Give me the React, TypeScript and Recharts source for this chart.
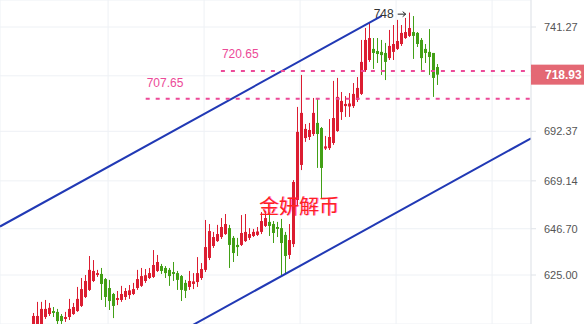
import {
  Bar,
  CartesianGrid,
  ComposedChart,
  ReferenceDot,
  ReferenceLine,
  XAxis,
  YAxis,
} from 'recharts';

// OHLC per session, oldest first
const opens = [
  600.2, 600.6, 601.6, 605.3, 606.7, 608.1, 607.7, 605.8, 604.4, 605.3,
  606.7, 608.1, 610.5, 614.7, 618.0, 622.2, 625.0, 625.5, 623.1, 618.9,
  616.1, 613.3, 613.3, 614.7, 615.6, 616.1, 618.9, 619.9, 622.2, 623.6,
  624.1, 626.9, 629.2, 628.3, 627.4, 626.4, 625.9, 624.5, 621.3, 619.4,
  620.8, 621.7, 623.6, 627.4, 633.0, 638.6, 640.9, 642.8, 644.2, 647.0,
  642.4, 639.1, 639.1, 640.9, 642.4, 643.3, 643.8, 645.2, 648.0, 649.9,
  648.9, 647.5, 647.0, 643.8, 634.4, 639.5, 660.2, 676.6, 689.2, 689.7,
  691.1, 696.3, 693.9, 684.3, 684.5, 686.9, 692.5, 701.4, 704.2, 704.0,
  704.2, 707.1, 709.9, 721.1, 725.8, 731.0, 730.0, 729.6, 729.1, 726.7,
  729.6, 731.0, 733.3, 736.1, 737.1, 738.9, 738.5, 735.2, 731.0, 729.6,
  729.1, 722.5,
];
const highs = [
  607.2, 612.4, 612.4, 613.3, 611.9, 610.0, 609.1, 606.7, 607.7, 613.8,
  611.9, 619.4, 623.6, 625.0, 633.9, 632.0, 627.4, 628.3, 623.6, 622.7,
  616.6, 617.5, 619.9, 618.9, 620.3, 621.3, 627.4, 628.3, 627.8, 628.3,
  636.7, 634.4, 630.2, 629.2, 628.3, 631.1, 626.9, 625.0, 622.7, 626.9,
  625.9, 633.4, 630.6, 650.8, 648.9, 645.2, 648.5, 651.7, 653.6, 648.5,
  643.3, 642.4, 653.1, 653.6, 647.0, 646.6, 647.5, 654.5, 655.0, 654.5,
  650.3, 649.9, 651.3, 645.2, 648.9, 669.5, 703.8, 718.8, 695.8, 696.3,
  708.0, 708.0, 694.4, 690.2, 698.1, 716.0, 717.4, 710.8, 708.9, 710.3,
  715.0, 717.8, 735.2, 740.8, 743.2, 736.1, 736.1, 735.2, 733.8, 739.9,
  742.2, 744.6, 742.2, 745.5, 748.0, 746.4, 738.9, 736.1, 733.3, 740.3,
  729.1, 723.9,
];
const lows = [
  598.3, 599.2, 600.2, 604.4, 605.8, 605.3, 601.6, 602.0, 603.0, 603.9,
  606.3, 607.7, 610.0, 614.2, 617.5, 621.7, 624.1, 613.3, 610.0, 608.6,
  604.8, 610.9, 612.4, 613.3, 613.8, 615.6, 618.0, 619.4, 621.3, 623.1,
  623.6, 626.4, 625.5, 623.6, 619.9, 622.2, 618.0, 612.8, 614.2, 618.0,
  618.4, 619.4, 622.7, 626.4, 632.0, 637.7, 640.5, 641.9, 643.8, 628.3,
  631.1, 633.9, 638.6, 640.5, 641.4, 642.8, 643.3, 644.2, 647.5, 643.3,
  640.0, 642.8, 624.5, 625.5, 632.5, 638.1, 657.8, 674.2, 687.4, 688.3,
  690.2, 675.2, 661.1, 683.6, 683.6, 686.0, 692.1, 697.7, 699.1, 699.1,
  703.3, 706.1, 709.4, 720.2, 724.9, 721.6, 724.4, 718.8, 716.4, 725.8,
  725.8, 730.5, 732.4, 735.7, 736.6, 726.3, 731.9, 721.1, 724.4, 718.8,
  708.5, 714.1,
];
const closes = [
  605.8, 605.8, 609.1, 609.1, 609.6, 607.2, 603.4, 603.4, 605.3, 609.1,
  610.0, 613.8, 618.4, 622.2, 627.4, 626.9, 625.9, 620.8, 614.7, 612.8,
  610.5, 614.2, 616.1, 617.5, 617.8, 618.4, 623.1, 624.5, 624.9, 625.9,
  629.7, 631.1, 626.9, 625.9, 624.5, 625.5, 622.7, 618.0, 617.6, 622.2,
  622.0, 625.9, 627.8, 638.1, 645.6, 642.8, 644.2, 647.5, 648.9, 639.1,
  635.3, 638.1, 644.7, 645.2, 644.2, 645.2, 645.4, 650.3, 651.7, 648.0,
  644.7, 646.6, 640.0, 633.9, 641.4, 668.6, 692.1, 701.0, 693.5, 693.0,
  701.0, 691.1, 675.2, 685.3, 689.7, 698.6, 708.5, 706.6, 705.2, 705.4,
  709.9, 712.7, 724.9, 735.2, 736.1, 729.1, 728.6, 728.1, 724.9, 732.4,
  733.3, 734.7, 738.5, 738.9, 740.8, 737.1, 733.3, 726.7, 729.1, 727.2,
  717.4, 718.93,
];

const priceTicks = [625.0, 646.7, 669.14, 692.37, 718.4, 741.27];
const timeTicks = [-5.4, 18.6, 42.6, 66.6, 90.6, 114.6];
const xDomain = [-8.425, 124.325];
const yDomain = [602.03, 753.93];

// support / resistance levels and where each one starts
const levelValues = [720.65, 707.65];
const levelStarts = [46.8, 28];

// rising channel: [x1, y1, x2, y2] in (session, price)
const channelUpper = [-8.425, 647.74, 87, 746.43];
const channelLower = [38, 599.7, 124.325, 689.09];

const RED = '#dc1d31';
const GREEN = '#42a016';
const PINK = '#ec4a98';
const BLUE = '#2139b5';
const FONT = '"Liberation Sans", Arial, sans-serif';
const W = 584;
const H = 324;
const AXIS_W = 53;

const candles = opens.map((open, i) => ({
  i,
  open,
  high: highs[i],
  low: lows[i],
  close: closes[i],
}));

const lastClose = closes[closes.length - 1];
const peakHigh = Math.max(...highs);
const peakIndex = highs.indexOf(peakHigh);

const Candle = (props: any) => {
  const { x, y, width, height, payload } = props;
  if (x == null || y == null) return null;
  const { open, close, high, low } = payload;
  const color = close >= open ? RED : GREEN;
  const top = Math.min(y, y + height);
  const h = Math.abs(height);
  const span = high - low || 1;
  const toY = (v: number) => top + ((high - v) / span) * h;
  const bodyTop = toY(Math.max(open, close));
  const bodyBottom = toY(Math.min(open, close));
  const cx = Math.round(x + width / 2) + 0.5;
  return (
    <g>
      <line x1={cx} x2={cx} y1={top} y2={top + h} stroke={color} strokeWidth={1} />
      <rect
        x={cx - 1.5}
        y={bodyTop}
        width={3}
        height={Math.max(bodyBottom - bodyTop, 1)}
        fill={color}
      />
    </g>
  );
};

const LevelLabel = ({ viewBox, value, dy }: any) => {
  if (!viewBox) return null;
  return (
    <text
      x={viewBox.x + 1}
      y={viewBox.y - dy}
      fill={PINK}
      fontSize={12}
      fontFamily={FONT}
      dominantBaseline="central"
    >
      {value.toFixed(2)}
    </text>
  );
};

const PriceBadge = ({ viewBox }: any) => {
  if (!viewBox) return null;
  const left = viewBox.x + viewBox.width;
  return (
    <g>
      <rect x={left} y={viewBox.y - 10} width={AXIS_W} height={20} fill="#e3606d" opacity={0.95} />
      <text
        x={left + 14}
        y={viewBox.y}
        fill="#fff"
        fontSize={12}
        fontWeight="bold"
        fontFamily={FONT}
        dominantBaseline="central"
      >
        {lastClose.toFixed(2)}
      </text>
    </g>
  );
};

const PeakMarker = ({ cx, cy }: any) => {
  if (cx == null) return null;
  const ay = cy + 1.5;
  return (
    <g>
      <text
        x={cx - 16}
        y={ay}
        textAnchor="end"
        fill="#333"
        fontSize={12}
        fontFamily={FONT}
        dominantBaseline="central"
      >
        {peakHigh.toFixed(0)}
      </text>
      <line x1={cx - 12} x2={cx - 4} y1={ay} y2={ay} stroke="#222" strokeWidth={1} />
      <path d={`M${cx - 7},${ay - 2.5} L${cx - 4},${ay} L${cx - 7},${ay + 2.5}`} fill="none" stroke="#222" />
    </g>
  );
};

export default function App() {
  return (
    <div style={{ position: 'fixed', left: 0, top: 0, width: W, height: H, background: '#fff' }}>
      <ComposedChart width={W} height={H} data={candles} margin={{ top: 0, right: 0, bottom: 0, left: 0 }}>
        <CartesianGrid stroke="#eef1f5" />
        <XAxis dataKey="i" type="number" domain={xDomain} ticks={timeTicks} allowDataOverflow hide />
        <YAxis
          orientation="right"
          width={AXIS_W}
          domain={yDomain}
          ticks={priceTicks}
          allowDataOverflow
          tickFormatter={(v: number) => v.toFixed(2)}
          tick={{ fill: '#555', fontSize: 11, fontFamily: FONT }}
          tickLine={{ stroke: '#dfe3e8' }}
          axisLine={{ stroke: '#e3e6ea' }}
          tickSize={5}
          tickMargin={8}
        />
        <Bar
          dataKey={(d: any) => [d.low, d.high]}
          barSize={3}
          shape={<Candle />}
          isAnimationActive={false}
        />
        <ReferenceLine
          segment={[
            { x: channelUpper[0], y: channelUpper[1] },
            { x: channelUpper[2], y: channelUpper[3] },
          ]}
          stroke={BLUE}
          strokeWidth={2}
          ifOverflow="hidden"
        />
        <ReferenceLine
          segment={[
            { x: channelLower[0], y: channelLower[1] },
            { x: channelLower[2], y: channelLower[3] },
          ]}
          stroke={BLUE}
          strokeWidth={2}
          ifOverflow="hidden"
        />
        {levelValues.map((v, k) => (
          <ReferenceLine
            key={v}
            segment={[
              { x: levelStarts[k], y: v },
              { x: xDomain[1], y: v },
            ]}
            stroke={PINK}
            strokeWidth={2}
            strokeDasharray="4 6"
            ifOverflow="hidden"
            label={<LevelLabel value={v} dy={k === 0 ? 17 : 16} />}
          />
        ))}
        <ReferenceDot x={peakIndex} y={peakHigh} r={0} ifOverflow="visible" shape={<PeakMarker />} />
      </ComposedChart>

      {/* last-price badge sits on its own layer so it covers the axis labels */}
      <div style={{ position: 'absolute', left: 0, top: 0, pointerEvents: 'none' }}>
        <ComposedChart width={W} height={H} data={candles} margin={{ top: 0, right: 0, bottom: 0, left: 0 }}>
          <XAxis dataKey="i" type="number" domain={xDomain} allowDataOverflow hide />
          <YAxis
            orientation="right"
            width={AXIS_W}
            domain={yDomain}
            allowDataOverflow
            tick={false}
            tickLine={false}
            axisLine={false}
          />
          <ReferenceLine y={lastClose} stroke="none" label={<PriceBadge />} />
        </ComposedChart>
      </div>

      <div
        style={{
          position: 'absolute',
          left: 259,
          top: 194,
          fontSize: 20,
          lineHeight: '24px',
          color: '#ff2222',
          fontFamily: '"Noto Sans CJK SC", sans-serif',
          textShadow: '1px 0 0 rgba(255,0,180,0.45)',
          pointerEvents: 'none',
        }}
      >
        金妍解币
      </div>
    </div>
  );
}
